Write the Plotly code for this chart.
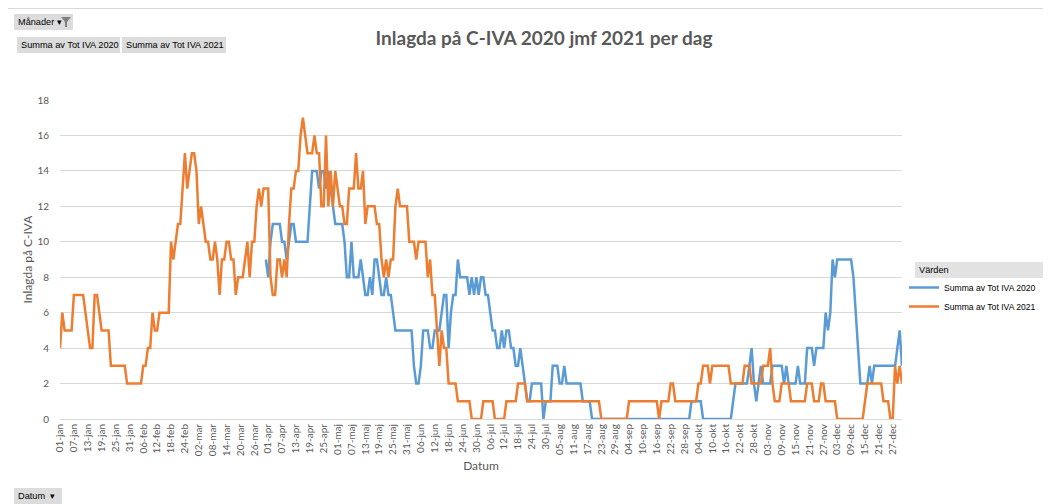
import pandas as pd
import plotly.graph_objects as go

# Datum-axel: svenska månadsförkortningar, var 6:e dag visas
MANADER = ["jan", "feb", "mar", "apr", "maj", "jun", "jul", "aug", "sep", "okt", "nov", "dec"]
datum = pd.date_range("2021-01-01", "2021-12-31", freq="D")
datum_txt = [f"{d.day:02d}-{MANADER[d.month - 1]}" for d in datum]
tick_txt = datum_txt[::6]

# Summa av Tot IVA 2021 (en rad per månad)
iva_2021 = [
    4, 6, 5, 5, 5, 5, 7, 7, 7, 7, 7, 6, 5, 4, 4, 7, 7, 6, 5, 5, 5, 5, 3, 3, 3, 3, 3, 3, 3, 2, 2,
    2, 2, 2, 2, 2, 3, 3, 4, 4, 6, 5, 5, 6, 6, 6, 6, 6, 10, 9, 10, 11, 11, 13, 15, 13, 14, 15, 15,
    14, 11, 12, 11, 10, 10, 9, 9, 10, 9, 7, 9, 9, 10, 10, 9, 9, 7, 8, 8, 8, 9, 10, 8, 10, 10, 12, 13, 12, 13, 13,
    13, 8, 7, 7, 9, 9, 8, 9, 8, 11, 13, 13, 14, 14, 16, 17, 16, 15, 15, 15, 16, 15, 15, 12, 12, 16, 12, 14, 12, 14,
    13, 12, 12, 11, 11, 13, 13, 13, 15, 13, 13, 14, 11, 12, 12, 12, 12, 11, 11, 9, 8, 9, 8, 9, 9, 12, 13, 12, 12, 12, 12,
    10, 10, 10, 9, 10, 10, 10, 10, 8, 9, 7, 7, 5, 3, 5, 4, 4, 2, 2, 2, 2, 1, 1, 1, 1, 1, 1, 0, 0, 0,
    0, 0, 1, 1, 1, 1, 1, 0, 0, 0, 0, 0, 1, 1, 1, 1, 1, 2, 2, 2, 2, 1, 1, 1, 1, 1, 1, 1, 1, 1, 1,
    1, 1, 1, 1, 1, 1, 1, 1, 1, 1, 1, 1, 1, 1, 1, 1, 1, 1, 1, 1, 1, 1, 0, 0, 0, 0, 0, 0, 0, 0, 0,
    0, 0, 0, 1, 1, 1, 1, 1, 1, 1, 1, 1, 1, 1, 1, 1, 0, 1, 1, 1, 1, 2, 2, 1, 1, 1, 1, 1, 1, 1,
    1, 1, 1, 2, 2, 3, 3, 3, 2, 3, 3, 3, 3, 3, 3, 3, 3, 2, 2, 2, 2, 2, 2, 3, 3, 3, 2, 2, 2, 2, 2,
    3, 3, 3, 4, 2, 1, 1, 1, 2, 2, 2, 2, 1, 1, 1, 1, 1, 1, 1, 2, 2, 2, 1, 1, 1, 2, 2, 1, 1, 1,
    1, 1, 0, 0, 0, 0, 0, 0, 0, 0, 0, 0, 0, 0, 1, 2, 2, 2, 2, 2, 2, 2, 1, 1, 1, 0, 0, 3, 2, 3, 2,
]

# Summa av Tot IVA 2020 (data saknas före 31 mars)
iva_2020 = [None] * 89 + [
    9,
    8, 10, 11, 11, 11, 11, 10, 10, 9, 10, 11, 11, 10, 10, 10, 10, 10, 10, 12, 14, 14, 14, 13, 14, 14, 13, 14, 13, 12, 11,
    11, 11, 11, 10, 8, 8, 10, 8, 8, 8, 9, 8, 7, 7, 8, 7, 9, 9, 8, 7, 7, 8, 7, 7, 6, 5, 5, 5, 5, 5, 5,
    5, 5, 3, 2, 2, 3, 5, 5, 5, 4, 4, 5, 5, 5, 6, 7, 7, 4, 6, 7, 7, 9, 8, 8, 8, 8, 7, 8, 7, 8,
    7, 8, 8, 7, 7, 6, 5, 5, 4, 4, 5, 4, 5, 5, 4, 4, 3, 3, 4, 3, 2, 1, 1, 2, 2, 2, 2, 2, 0, 1, 1,
    1, 3, 3, 3, 2, 2, 3, 2, 2, 2, 2, 2, 2, 2, 1, 1, 1, 1, 0, 0, 0, 0, 0, 0, 0, 0, 0, 0, 0, 0, 0,
    0, 0, 0, 0, 0, 0, 0, 0, 0, 0, 0, 0, 0, 0, 0, 0, 0, 0, 0, 0, 0, 0, 0, 0, 0, 0, 0, 0, 0, 0,
    1, 1, 1, 1, 1, 0, 0, 0, 0, 0, 0, 0, 0, 0, 0, 0, 0, 0, 1, 2, 2, 2, 2, 2, 2, 3, 4, 2, 1, 2, 3,
    2, 2, 2, 2, 3, 3, 3, 3, 3, 2, 3, 2, 2, 2, 2, 3, 2, 2, 2, 4, 4, 4, 3, 4, 4, 4, 4, 6, 5, 6,
    9, 8, 9, 9, 9, 9, 9, 9, 9, 8, 6, 4, 2, 2, 2, 2, 3, 2, 3, 3, 3, 3, 3, 3, 3, 3, 3, 3, 4, 5, 3,
]

BLA = "#5B9BD5"
ORANGE = "#ED7D31"
GRA_TEXT = "#595959"
GRID = "#D9D9D9"
FONT = "Lato"
KNAPP_FONT = "Liberation Sans"

# sidan har 8px body-marginal, så figuren görs 8px mindre och allt mäts i skärmpixlar
OFF = 8
W, H = 1051 - OFF, 504 - OFF
L, T = 60 - OFF, 100 - OFF
R, B = W - (902 - OFF), H - (419 - OFF)
PW, PH = W - L - R, H - T - B


def px(x):
    return (x - OFF - L) / PW


def py(y):
    return (H - B - (y - OFF)) / PH


fig = go.Figure()
fig.add_trace(go.Scatter(x=datum_txt, y=iva_2020, mode="lines", name="Summa av Tot IVA 2020",
                         line=dict(color=BLA, width=2.5)))
fig.add_trace(go.Scatter(x=datum_txt, y=iva_2021, mode="lines", name="Summa av Tot IVA 2021",
                         line=dict(color=ORANGE, width=2.5)))

# pivot-fältknappar som grå rutor
knappar = [
    (14, 14, 73, 30, "Månader ▾"),
    (17, 37, 120, 53, "Summa av Tot IVA 2020"),
    (122, 37, 226, 53, "Summa av Tot IVA 2021"),
    (14, 488, 62, 504, "Datum  ▾"),
]
shapes = []
annots = []
for x0, y0, x1, y1, txt in knappar:
    shapes.append(dict(type="rect", xref="paper", yref="paper", x0=px(x0), x1=px(x1), y0=py(y1), y1=py(y0),
                       fillcolor="#DCDCDC", line=dict(width=0), layer="above"))
    annots.append(dict(text=txt, xref="paper", yref="paper", x=px(x0 + 2), y=py((y0 + y1) / 2),
                       xanchor="left", yanchor="middle", showarrow=False,
                       font=dict(family=KNAPP_FONT, size=9.2, color="#000000")))

# tratt-ikon på Månader-knappen
tratt = [(61, 17), (71, 17), (67, 22), (67, 27), (65, 27), (65, 22)]
path = "M " + " L ".join(f"{px(a)},{py(b)}" for a, b in tratt) + " Z"
shapes.append(dict(type="path", xref="paper", yref="paper", path=path,
                   fillcolor="#808080", line=dict(width=0)))

# legendrubrik "Värden"
shapes.append(dict(type="rect", xref="paper", yref="paper", x0=px(915), x1=px(1047), y0=py(278), y1=py(262),
                   fillcolor="#E2E2E2", line=dict(width=0)))
annots.append(dict(text="Värden", xref="paper", yref="paper", x=px(917), y=py(270),
                   xanchor="left", yanchor="middle", showarrow=False,
                   font=dict(family=KNAPP_FONT, size=9.2, color="#000000")))

# ram runt diagramytan (överkant)
shapes.append(dict(type="line", xref="paper", yref="paper", x0=px(8), x1=px(1051), y0=py(8.5), y1=py(8.5),
                   line=dict(color=GRID, width=1)))

fig.update_layout(
    width=W, height=H,
    margin=dict(l=L, r=R, t=T, b=B, autoexpand=False),
    paper_bgcolor="white", plot_bgcolor="white",
    font=dict(family=FONT, color=GRA_TEXT),
    title=dict(text="<b>Inlagda på C-IVA 2020 jmf 2021 per dag</b>", x=(544 - OFF) / W, xanchor="center",
               y=1 - (38 - OFF) / H, yanchor="middle", font=dict(family=FONT, size=19, color=GRA_TEXT)),
    showlegend=True,
    legend=dict(x=px(904), y=py(273), xanchor="left", yanchor="top",
                font=dict(family=KNAPP_FONT, size=8.6, color="#000000"),
                bgcolor="rgba(0,0,0,0)", itemwidth=30),
    shapes=shapes,
    annotations=annots,
)
fig.update_xaxes(type="category", range=[0, 364], tickvals=tick_txt, tickangle=-90,
                 tickfont=dict(size=10, color=GRA_TEXT), showgrid=False, showline=True,
                 linecolor=GRID, linewidth=1, ticks="",
                 title=dict(text="Datum", font=dict(size=12, color=GRA_TEXT), standoff=6))
fig.update_yaxes(range=[0, 18], dtick=2, showgrid=True, gridcolor=GRID, gridwidth=1, zeroline=False,
                 showline=False, ticks="", tickfont=dict(size=10, color=GRA_TEXT), ticklabelstandoff=10,
                 title=dict(text="Inlagda på C-IVA", font=dict(size=12, color=GRA_TEXT), standoff=2))

fig.write_html("out.html")
